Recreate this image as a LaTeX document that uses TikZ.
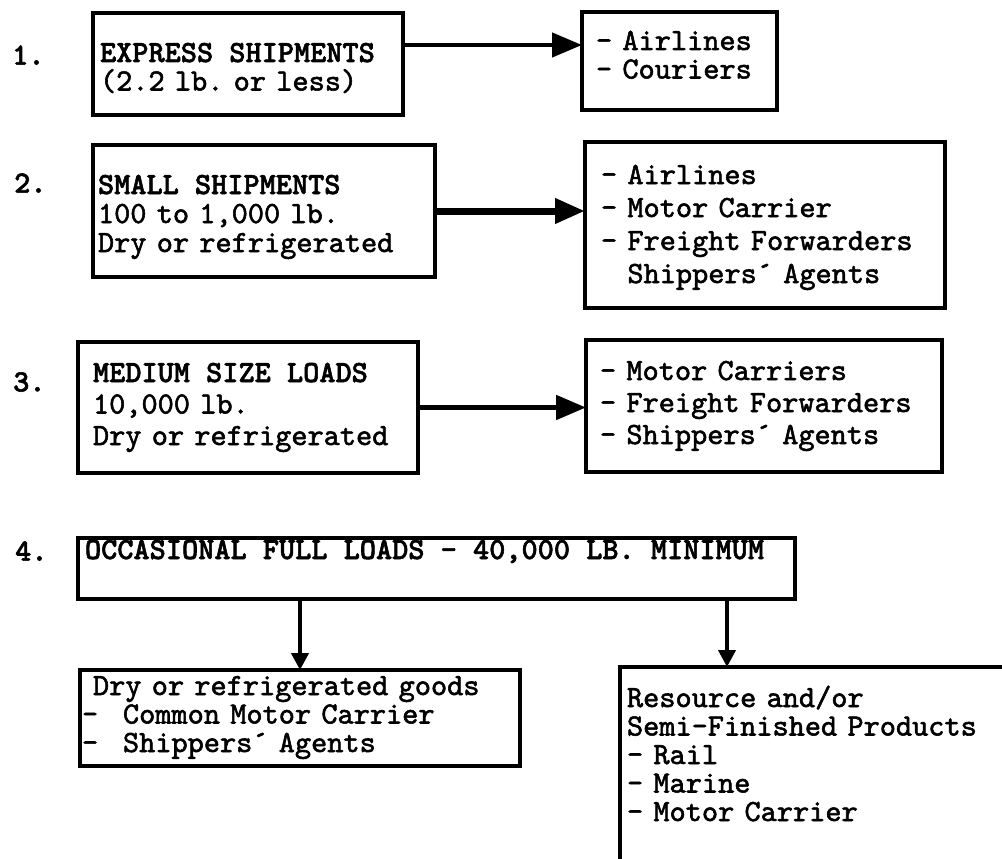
\documentclass[tikz,border=0pt]{standalone}
\usepackage{fontspec}
\newfontfamily\typer{lmmono10-regular}[Extension=.otf, BoldFont=lmmonolt10-bold, FakeBold=1.8]
\usetikzlibrary{arrows.meta}
\frenchspacing
\newcommand{\indash}{\makebox[30pt][l]{\hspace*{-11pt}-}}
\newcommand{\hd}[1]{{\bfseries\spaceskip=0.525em\relax #1}}
\tikzset{
  box/.style={draw, line width=3.5pt, anchor=north west, align=left, inner ysep=0pt, outer sep=0pt},
  lead/.style={font=\typer\fontsize{30.8}{#1}\selectfont},
  num/.style={anchor=west, inner sep=0pt, font=\typer\bfseries\fontsize{30.8}{30}\selectfont},
  arr/.style={-{Triangle[length=30pt,width=24pt]}, line width=#1},
  downarr/.style={-{Triangle[length=17pt,width=17pt]}, line width=4pt},
}

\begin{document}
\begin{tikzpicture}[x=1pt, y=-1pt]
  \path[use as bounding box] (0,0) rectangle (1002,859);
  \clip (0,0) rectangle (1002,859);
  % 1. express
  \node[num] (n1) at (12,55) {1.};
  \node[box, lead=28.5pt, inner xsep=7pt, text width=296pt, text height=49pt, text depth=53pt] (b1) at (93,13)
    {\hd{EXPRESS SHIPMENTS}\\(2.2 lb. or less)};
  \node[box, lead=28.5pt, inner xsep=14pt, text width=167pt, text height=38pt, text depth=60pt] (r1) at (582,12)
    {- Airlines\\- Couriers};
  \coordinate (a1) at ([yshift=19pt]b1.east);
  \draw[arr=4.5pt] (a1) -- (a1 -| r1.west);
  % 2. small
  \node[num] (n2) at (14,183) {2.};
  \node[box, lead=29pt, inner xsep=5pt, text width=332pt, text height=49pt, text depth=83pt] (b2) at (93,145)
    {\hd{SMALL SHIPMENTS}\\100 to 1,000 lb.\\Dry or refrigerated};
  \node[box, lead=33pt, inner xsep=16pt, text width=328pt, text height=42pt, text depth=124pt] (r2) at (585,142)
    {- Airlines\\- Motor Carrier\\- Freight Forwarders\\\phantom{- }Shippers´ Agents};
  \draw[arr=7pt] (b2.east) -- (b2.east -| r2.west);
  % 3. medium
  \node[num] (n3) at (13,382) {3.};
  \node[box, lead=31.5pt, inner xsep=15pt, text width=310pt, text height=40pt, text depth=91pt] (b3) at (78,342)
    {\hd{MEDIUM SIZE LOADS}\\10,000 lb.\\Dry or refrigerated};
  \node[box, lead=32pt, inner xsep=14pt, text width=328pt, text height=40pt, text depth=92pt] (r3) at (586,340)
    {- Motor Carriers\\- Freight Forwarders\\- Shippers´ Agents};
  \draw[arr=5pt] (b3.east) -- (b3.east -| r3.west);
  % 4. full loads
  \node[num] (n4) at (15,551) {4.};
  \node[box, lead=27pt, inner xsep=7pt, text width=703pt, text height=21pt, text depth=40pt] (b4) at (78,538)
    {\hd{OCCASIONAL FULL LOADS - 40,000 LB. MINIMUM}};
  \node[box, lead=28.5pt, inner xsep=13pt, text width=414pt, text height=25pt, text depth=71pt] (d1) at (80,670)
    {Dry or refrigerated goods\\\indash Common Motor Carrier\\\indash Shippers´ Agents};
  % runs off the page
  \node[box, lead=28.5pt, inner xsep=7pt, text width=436pt, text height=40pt, text depth=300pt] (d2) at (620,667)
    {Resource and/or\\Semi-Finished Products\\- Rail\\- Marine\\- Motor Carrier};
  \coordinate (a4) at ([xshift=107pt]d2.north west);
  \draw[downarr] (b4.south -| d1.north) -- (d1.north);
  \draw[downarr] (b4.south -| a4) -- (a4);
\end{tikzpicture}
\end{document}
